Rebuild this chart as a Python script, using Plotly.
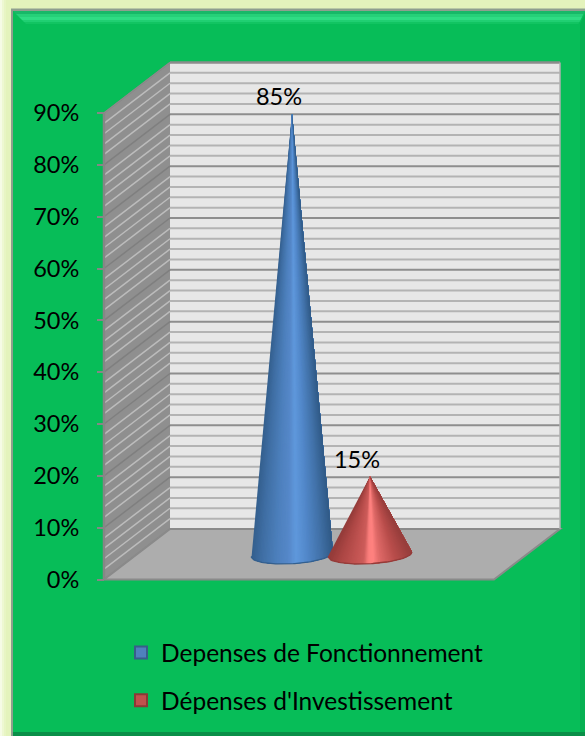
import math
import plotly.graph_objects as go

# ---- data ----
categories = ["Depenses de Fonctionnement", "Dépenses d'Investissement"]
values = [85, 15]
y_ticks = [0, 10, 20, 30, 40, 50, 60, 70, 80, 90]
minor_ticks = [v for v in range(0, 91, 2)]

# ---- style ----
W, H = 585, 736
Y0_PX, Y90_PX = 579.5, 113.0
PX_PER_PCT = (Y0_PX - Y90_PX) / 90
X_FRONT_L, X_FRONT_R = 104, 494
DX, DY = 66, 50.5
CONE_X_PX = [292, 370]
CONE_A = [41, 42]
CONE_B = 9.5
TILT = 0.055
FONT = "Lato"
TXT = 23.5
LEG_TXT = 24.5
GREEN = "#07bd58"
legend_fill = ["#4f81bd", "#c0504d"]
legend_edge = ["#385d8a", "#8c3836"]
cone_stops = [
    [(0, "#345f8d"), (.12, "#3f6ea3"), (.3, "#4c7fbb"), (.45, "#5587c8"), (.55, "#5f98dc"),
     (.68, "#5288ca"), (.85, "#4272a9"), (1, "#305a86")],
    [(0, "#943b39"), (.15, "#ad4745"), (.32, "#c25452"), (.42, "#cc5c5a"), (.48, "#fb7e7c"),
     (.54, "#ff8280"), (.62, "#dd6866"), (.8, "#b84d4b"), (1, "#963d3b")],
]

y_range = [(Y0_PX - H) / PX_PER_PCT, Y0_PX / PX_PER_PCT]


def proj(x, v, depth=0.0):
    """3-D oblique projection: depth 0 = front, 1 = back wall."""
    return x + DX * depth, v + DY * depth / PX_PER_PCT


def hex2rgb(c):
    return [int(c[i:i + 2], 16) for i in (1, 3, 5)]


def ramp(stops, f):
    for (a, ca), (b, cb) in zip(stops, stops[1:]):
        if a <= f <= b:
            t = (f - a) / (b - a)
            r = [round(p + (q - p) * t) for p, q in zip(hex2rgb(ca), hex2rgb(cb))]
            return "rgb(%d,%d,%d)" % tuple(r)
    return stops[-1][1]


def poly(points):
    return "M" + " L".join(f"{x:.4f},{y:.4f}" for x, y in points) + " Z"


def pp(pts):
    return [(x / W, 1 - y / H) for x, y in pts]


shapes = []


def paper_poly(pts, fill):
    shapes.append(dict(type="path", xref="paper", yref="paper", path=poly(pp(pts)),
                       fillcolor=fill, line=dict(width=0), layer="below"))


def data_poly(pts, fill, edge=None, w=0):
    shapes.append(dict(type="path", xref="x", yref="y", path=poly(pts), fillcolor=fill,
                       line=dict(width=w, color=edge or fill), layer="below"))


def data_line(p, q, color, w):
    shapes.append(dict(type="line", xref="x", yref="y", x0=p[0], y0=p[1], x1=q[0], y1=q[1],
                       line=dict(color=color, width=w), layer="below"))


# ---- frame ----
for i, c in enumerate(["#f6fbe6", "#eef8d2", "#e8f5c4", "#e4f3bc"]):
    paper_poly([(i * 2, 0), (W, 0), (W, H), (i * 2, H)], c)
paper_poly([(11, 8.5), (W, 8.5), (W, H), (11, H)], "#8f9f8f")
paper_poly([(13, 11), (W, 11), (W, H), (13, H)], GREEN)
for top, bot, col in [(11, 14, "#18b868"), (14, 17, "#26d078"), (17, 20, "#2fdc84"),
                      (20, 22, "#20cf72"), (22, 24, "#12c462")]:
    paper_poly([(13 + top - 11, top), (W - (top - 11) * .5, top),
                (W - (bot - 11) * .5, bot), (13 + bot - 11, bot)], col)
paper_poly([(580, 24), (W, 14), (W, H), (580, 731)], "#06b052")
paper_poly([(13, 732), (W, 732), (W, H), (13, H)], "#0a8f48")

# ---- chart box ----
side = [proj(X_FRONT_L, 0), proj(X_FRONT_L, 0, 1), proj(X_FRONT_L, 90, 1), proj(X_FRONT_L, 90)]
back = [proj(X_FRONT_L, 0, 1), proj(X_FRONT_R, 0, 1), proj(X_FRONT_R, 90, 1), proj(X_FRONT_L, 90, 1)]
floor = [proj(X_FRONT_L, 0), proj(X_FRONT_R, 0), proj(X_FRONT_R, 0, 1), proj(X_FRONT_L, 0, 1)]
data_poly(back, "#e7e7e7")
data_poly(side, "#8f8f8f")
for v in minor_ticks:
    major = v in y_ticks
    data_line(proj(X_FRONT_L, v, 1), proj(X_FRONT_R, v, 1),
              "#8e8e8e" if major else "#b3b3b3", 2)
    data_line(proj(X_FRONT_L, v), proj(X_FRONT_L, v, 1),
              "#7f7f7f" if major else "#bcbcbc", 1.5)
data_poly(floor, "#adadad", "#8a8a8a", 2)
data_line(proj(X_FRONT_L, 0), proj(X_FRONT_L, 90), "#868686", 2.5)
data_line(proj(X_FRONT_L, 90), proj(X_FRONT_L, 90, 1), "#8c8c8c", 1.5)
data_line(proj(X_FRONT_L, 90, 1), proj(X_FRONT_R, 90, 1), "#8c8c8c", 2)
data_line(proj(X_FRONT_R, 90, 1), proj(X_FRONT_R, 0, 1), "#b0b0b0", 1.5)

fig = go.Figure()

# ---- cones ----
STRIPS = 60
for cx, a, val, stops, name in zip(CONE_X_PX, CONE_A, values, cone_stops, categories):
    bx, bv = proj(cx - DX * .5, 0, .5)  # base centre at mid depth
    tip = (bx, bv + val)

    def base(f):
        # f runs 0..1 left to right across the silhouette, along the front of the ellipse
        t = math.acos(max(-1.0, min(1.0, 1 - 2 * f)))
        ex, ey = -a * math.cos(t), CONE_B * math.sin(t)
        return bx + ex, bv - (ey - ex * TILT) / PX_PER_PCT

    # painter's order: each polygon spans from its strip to the right edge, so no seams
    for i in range(STRIPS):
        f0 = i / STRIPS
        col = ramp(stops, f0 + .5 / STRIPS)
        n = max(2, STRIPS - i)
        sub = [base(f0 + (1 - f0) * k / (n * 3)) for k in range(n * 3 + 1)]
        xs = [tip[0]] + [p[0] for p in sub] + [tip[0]]
        ys = [tip[1]] + [p[1] for p in sub] + [tip[1]]
        fig.add_trace(go.Scatter(x=xs, y=ys, mode="lines", fill="toself", fillcolor=col,
                                 line=dict(width=0), showlegend=False, hoverinfo="skip"))
    rim = [base(i / 60) for i in range(61)]
    fig.add_trace(go.Scatter(x=[p[0] for p in rim], y=[p[1] for p in rim], mode="lines",
                             line=dict(color=ramp(stops, 0), width=1.4), showlegend=False,
                             hoverinfo="skip"))
    fig.add_trace(go.Scatter(x=[tip[0] - 13], y=[tip[1] + 3 / PX_PER_PCT], mode="text",
                             text=[f"{val}%"], textposition="top center",
                             textfont=dict(family=FONT, size=TXT, color="#000"),
                             showlegend=False, hoverinfo="skip"))

# ---- legend ----
for name, fc, ec in zip(categories, legend_fill, legend_edge):
    fig.add_trace(go.Scatter(x=[None], y=[None], mode="markers", name=name, legendgroup=name,
                             marker=dict(symbol="square", size=15, color=fc,
                                         line=dict(color=ec, width=2))))

fig.update_layout(
    width=W, height=H, margin=dict(l=0, r=0, t=0, b=0, autoexpand=False),
    paper_bgcolor="#e4f3bc", plot_bgcolor="rgba(0,0,0,0)",
    font=dict(family=FONT, size=TXT, color="#000"),
    shapes=shapes,
    xaxis=dict(range=[0, W], visible=False, domain=[0, 1], fixedrange=True),
    yaxis=dict(range=y_range, anchor="free", position=X_FRONT_L / W, side="left",
               tickmode="array", tickvals=y_ticks, ticktext=[f"{v}%" for v in y_ticks],
               ticks="outside", ticklen=7, tickwidth=2, tickcolor="#868686",
               showgrid=False, zeroline=False, showline=False, fixedrange=True,
               ticklabelstandoff=13, tickfont=dict(family=FONT, size=TXT, color="#000")),
    legend=dict(x=121 / W, y=1 - 630 / H, xanchor="left", yanchor="top",
                bgcolor="rgba(0,0,0,0)", borderwidth=0, tracegroupgap=13,
                itemsizing="constant", traceorder="grouped",
                font=dict(family=FONT, size=LEG_TXT, color="#000")),
)
fig.write_html("out.html", config=dict(displayModeBar=False),
               post_script="document.body.style.margin='0';document.body.style.overflow='hidden';")
